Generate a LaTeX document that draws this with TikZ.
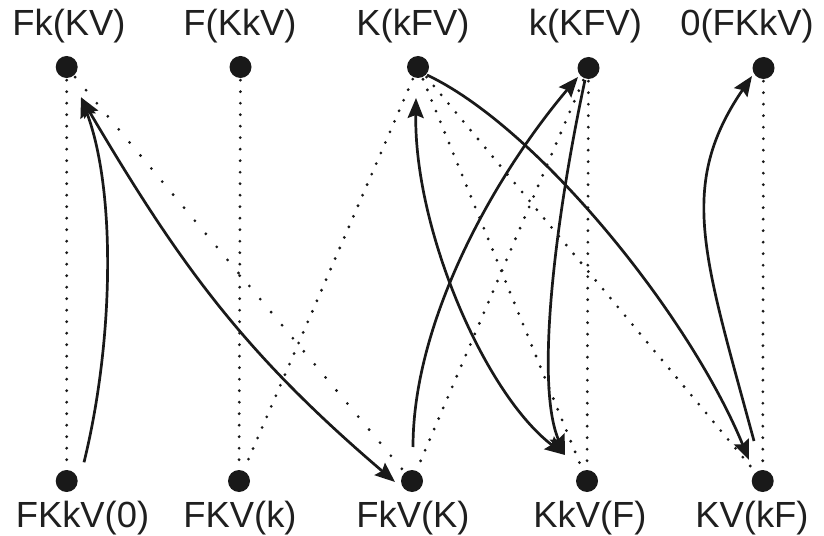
\documentclass[tikz,border=0pt]{standalone}
\usepackage{fontspec}
\setmainfont{Liberation Sans}
\usetikzlibrary{arrows.meta,calc}
\begin{document}
\begin{tikzpicture}[x=1bp,y=-1bp,
  dot/.style={circle,fill=black!90,inner sep=0pt,minimum size=22bp},
  lbl/.style={anchor=base,font=\fontsize{36.5}{40}\selectfont,inner sep=0pt,text=black!88},
  dotline/.style={line width=3.1bp,line cap=round,dash pattern=on 0bp off 11.5bp,shorten <=2bp,shorten >=2bp,black!90},
  widedots/.style={dotline,dash pattern=on 0bp off 17bp},
  arr/.style={line width=2.7bp,black!90,-{Stealth[length=20bp,width=16bp,inset=3bp]}},
  arrr/.style={line width=2.7bp,black!90,{Stealth[length=20bp,width=16bp,inset=3bp]}-{Stealth[length=20bp,width=16bp,inset=3bp]}},
]
\useasboundingbox (0,0) rectangle (824,536);
% dots
\node[dot] (t1) at (66.7,67) {};
\node[dot] (t2) at (240.5,67) {};
\node[dot] (t3) at (418,67) {};
\node[dot] (t4) at (588.5,68) {};
\node[dot] (t5) at (763.5,68) {};
\node[dot] (b1) at (66.7,481) {};
\node[dot] (b2) at (239,481) {};
\node[dot] (b3) at (412,481) {};
\node[dot] (b4) at (587,481) {};
\node[dot] (b5) at (762.7,481) {};
% labels
\node[lbl] (lt1) at (69,36) {Fk(KV)};
\node[lbl] (lt2) at (240,36) {F(KkV)};
\node[lbl] (lt3) at (413,36) {K(kFV)};
\node[lbl] (lt4) at (585.5,36) {k(KFV)};
\node[lbl] (lt5) at (747,36) {0(FKkV)};
\node[lbl] (lb1) at (82.5,527) {FKkV(0)};
\node[lbl] (lb2) at (240,527) {FKV(k)};
\node[lbl] (lb3) at (413,527) {FkV(K)};
\node[lbl] (lb4) at (590,527) {KkV(F)};
\node[lbl] (lb5) at (752,527) {KV(kF)};
% dotted lines
\draw[dotline] (t1) -- (b1);
\draw[dotline] (t2) -- (b2);
\draw[dotline] (t4) -- (b4);
\draw[dotline] (t5) -- (b5);
\draw[widedots] (t1) -- (b3);
\draw[dotline] (t3) -- (b2);
\draw[dotline] (t3) -- (b4);
\draw[dotline] (t3) -- (b5);
\draw[dotline] (t4) -- (b3);
% solid arrows
\draw[arr] ($(b1)+(17.3,-18.7)$) .. controls (114,340) and (116,190) .. ($(t1)+(14.3,30.3)$);
\draw[arrr] ($(t1)+(14.3,30.3)$) .. controls (181,267) and (245,354) .. ($(b3)+(-17,1)$);
\draw[arr] ($(t3)+(9,8)$) .. controls (537,127) and (689,314) .. ($(b5)+(-13.7,-21)$);
\draw[arr] ($(b3)+(1,-34)$) .. controls (413,320) and (495,175) .. ($(t4)+(-10.5,9)$);
\draw[arrr] ($(t3)+(-2,31)$) .. controls (414,230) and (485,394) .. ($(b4)+(-22,-26)$);
\draw[arr] ($(t4)+(-3.5,12)$) .. controls (555,220) and (535,385) .. ($(b4)+(-22,-26)$);
\draw[arr] ($(b5)+(-8.7,-40)$) .. controls (704,256) and (677,186) .. ($(t5)+(-11.5,8)$);
\end{tikzpicture}
\end{document}
